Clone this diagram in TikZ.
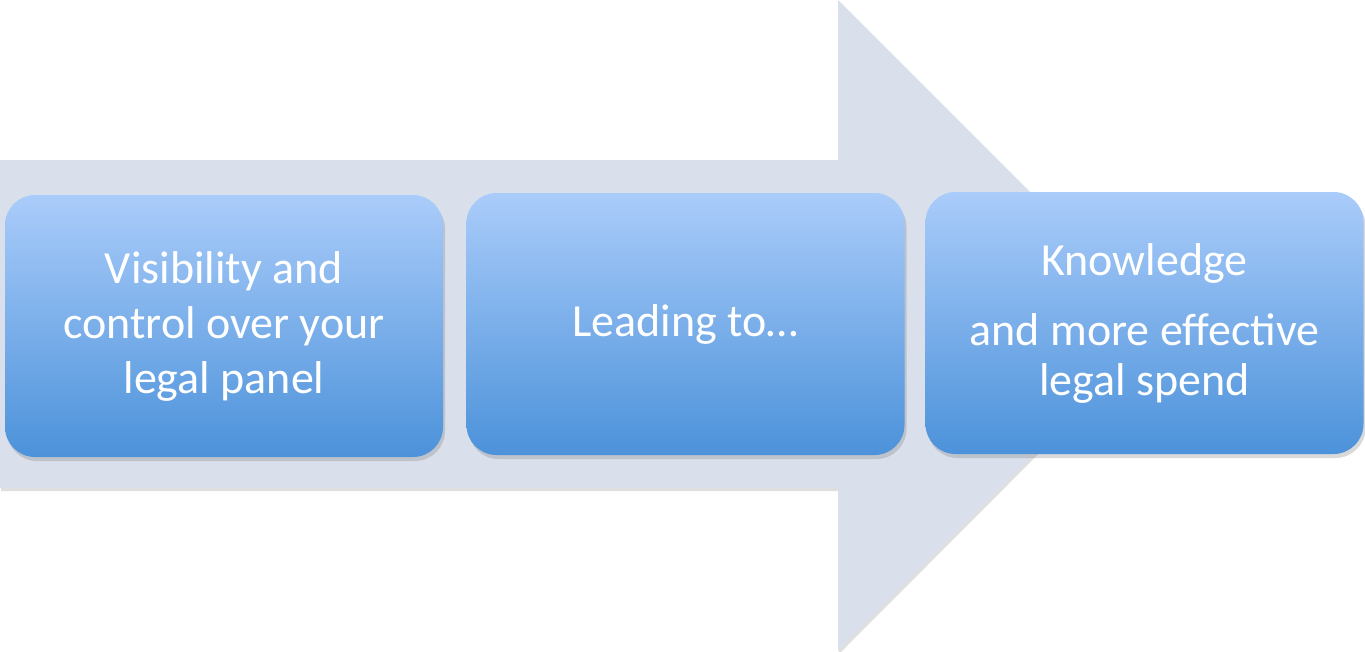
\documentclass[tikz,border=0pt]{standalone}
\usepackage{fontspec}
\setmainfont{Carlito}
\usepackage{tikz}
\usetikzlibrary{shadows}
\usetikzlibrary{positioning, calc}
\definecolor{arrowgrey}{RGB}{217,224,236}
\definecolor{boxtop}{RGB}{170,204,250}
\definecolor{boxbottom}{RGB}{76,146,218}
\begin{document}
\begin{tikzpicture}
      [x=1pt,y=-1pt,
       stagebox/.style={rounded corners=30pt,top color=boxtop,bottom color=boxbottom,
         minimum width=438pt,minimum height=262pt,align=center,
         text=white,font=\fontsize{46}{55}\selectfont,
         drop shadow={opacity=0.3,shadow xshift=2pt,shadow yshift=-4pt}}]
      \useasboundingbox (0,0) rectangle (1365,651);
      % big arrow behind the boxes
      \fill[arrowgrey,drop shadow={opacity=0.25,shadow xshift=1pt,shadow yshift=-3pt}]
        (0,160) -- (838,160) -- (838,0) -- (1163,325) -- (838,651) -- (838,488) -- (0,488) -- cycle;
      \node[stagebox] (visibility) at (224,326) {Visibility and\\control over your\\legal panel};
      \node[stagebox] (leading)    at (685.5,324) {Leading to\ldots};
      \node[stagebox,font=\fontsize{46}{50}\selectfont] (knowledge) at (1144.5,323)
        {Knowledge\\[20pt]and more effective\\legal spend};
    \end{tikzpicture}
\end{document}
